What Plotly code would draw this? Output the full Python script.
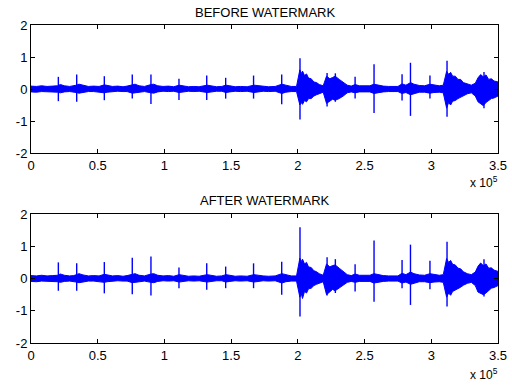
import plotly.graph_objects as go

# ---- data (sample index in thousands of samples) ----
env_k = [0, 4, 8, 12, 16, 20, 22, 25, 29, 32,
         34, 36, 39, 43, 47, 51, 55, 57, 61, 65,
         69, 72, 76, 78, 81, 85, 90, 92, 95, 99,
         103, 107, 111, 114, 118, 122, 126, 132, 135, 139,
         143, 146, 149, 153, 157, 162, 167, 170, 174, 178,
         183, 188, 191, 195, 199,
         201.5, 202.5, 203.5, 205, 206.5, 208, 210, 212, 214, 216, 219,
         221.5, 224, 226, 228, 231, 234, 237, 240,
         243, 246, 250, 254, 257, 260, 264, 268, 272, 275,
         278, 281, 284.5, 287, 291, 295, 299, 302, 306, 309,
         311.5, 313, 314.5, 316, 318, 320, 322, 324, 327, 330,
         333, 335, 337, 339, 341, 343, 345, 347, 350]

before_upper = [0.09, 0.08, 0.10, 0.08, 0.09, 0.10, 0.14, 0.10, 0.08, 0.09,
                0.12, 0.15, 0.11, 0.08, 0.09, 0.08, 0.13, 0.12, 0.08, 0.09,
                0.07, 0.09, 0.14, 0.15, 0.10, 0.08, 0.14, 0.15, 0.10, 0.08,
                0.09, 0.07, 0.12, 0.10, 0.07, 0.08, 0.07, 0.12, 0.10, 0.07,
                0.08, 0.12, 0.10, 0.07, 0.08, 0.07, 0.12, 0.10, 0.08, 0.07,
                0.08, 0.15, 0.12, 0.08, 0.08,
                0.60, 0.48, 0.56, 0.42, 0.47, 0.34, 0.32, 0.22, 0.20, 0.14, 0.10,
                0.40, 0.32, 0.36, 0.40, 0.30, 0.20, 0.12, 0.09,
                0.14, 0.10, 0.09, 0.10, 0.15, 0.12, 0.09, 0.08, 0.09, 0.08,
                0.16, 0.12, 0.20, 0.15, 0.11, 0.10, 0.15, 0.12, 0.10, 0.12,
                0.55, 0.46, 0.52, 0.40, 0.40, 0.30, 0.30, 0.20, 0.15, 0.12,
                0.18, 0.35, 0.45, 0.38, 0.44, 0.30, 0.32, 0.25, 0.22]
before_lower = [-0.09, -0.10, -0.08, -0.09, -0.08, -0.10, -0.12, -0.09, -0.08, -0.09,
                -0.11, -0.13, -0.10, -0.08, -0.08, -0.09, -0.12, -0.10, -0.08, -0.07,
                -0.08, -0.08, -0.13, -0.12, -0.09, -0.08, -0.12, -0.13, -0.09, -0.07,
                -0.08, -0.07, -0.11, -0.09, -0.07, -0.08, -0.07, -0.11, -0.09, -0.07,
                -0.07, -0.11, -0.09, -0.07, -0.08, -0.07, -0.11, -0.09, -0.07, -0.08,
                -0.07, -0.14, -0.10, -0.08, -0.08,
                -0.50, -0.42, -0.48, -0.36, -0.40, -0.30, -0.30, -0.22, -0.18, -0.14, -0.10,
                -0.45, -0.38, -0.32, -0.35, -0.30, -0.22, -0.12, -0.09,
                -0.12, -0.09, -0.08, -0.09, -0.14, -0.11, -0.09, -0.08, -0.09, -0.08,
                -0.14, -0.11, -0.18, -0.14, -0.10, -0.10, -0.13, -0.11, -0.10, -0.12,
                -0.60, -0.42, -0.50, -0.38, -0.36, -0.30, -0.26, -0.20, -0.15, -0.12,
                -0.22, -0.40, -0.45, -0.52, -0.42, -0.36, -0.30, -0.28, -0.22]

after_upper = [0.09, 0.08, 0.10, 0.08, 0.09, 0.10, 0.14, 0.10, 0.08, 0.09,
               0.12, 0.15, 0.11, 0.08, 0.09, 0.08, 0.13, 0.12, 0.08, 0.09,
               0.07, 0.09, 0.14, 0.15, 0.10, 0.08, 0.14, 0.15, 0.10, 0.08,
               0.09, 0.07, 0.12, 0.10, 0.07, 0.08, 0.07, 0.12, 0.10, 0.07,
               0.08, 0.12, 0.10, 0.07, 0.08, 0.07, 0.12, 0.10, 0.08, 0.07,
               0.08, 0.15, 0.12, 0.08, 0.08,
               0.63, 0.52, 0.60, 0.45, 0.50, 0.36, 0.34, 0.24, 0.21, 0.15, 0.10,
               0.45, 0.36, 0.40, 0.42, 0.32, 0.22, 0.12, 0.09,
               0.14, 0.10, 0.09, 0.10, 0.15, 0.12, 0.09, 0.08, 0.09, 0.08,
               0.16, 0.12, 0.20, 0.15, 0.11, 0.10, 0.15, 0.12, 0.10, 0.12,
               0.62, 0.50, 0.56, 0.44, 0.42, 0.32, 0.30, 0.21, 0.15, 0.12,
               0.20, 0.38, 0.48, 0.40, 0.45, 0.32, 0.33, 0.26, 0.22]
after_lower = [-0.09, -0.10, -0.08, -0.09, -0.08, -0.10, -0.12, -0.09, -0.08, -0.09,
               -0.11, -0.13, -0.10, -0.08, -0.08, -0.09, -0.12, -0.10, -0.08, -0.07,
               -0.08, -0.08, -0.13, -0.12, -0.09, -0.08, -0.12, -0.13, -0.09, -0.07,
               -0.08, -0.07, -0.11, -0.09, -0.07, -0.08, -0.07, -0.11, -0.09, -0.07,
               -0.07, -0.11, -0.09, -0.07, -0.08, -0.07, -0.11, -0.09, -0.07, -0.08,
               -0.07, -0.14, -0.10, -0.08, -0.08,
               -0.58, -0.46, -0.62, -0.40, -0.45, -0.32, -0.30, -0.22, -0.18, -0.14, -0.10,
               -0.50, -0.40, -0.34, -0.38, -0.30, -0.22, -0.12, -0.09,
               -0.12, -0.09, -0.08, -0.09, -0.14, -0.11, -0.09, -0.08, -0.09, -0.08,
               -0.14, -0.11, -0.18, -0.14, -0.10, -0.10, -0.13, -0.11, -0.10, -0.12,
               -0.58, -0.45, -0.52, -0.40, -0.36, -0.30, -0.27, -0.21, -0.15, -0.12,
               -0.22, -0.42, -0.45, -0.50, -0.45, -0.38, -0.30, -0.28, -0.22]

spike_k = [20.5, 34.25, 54.95, 75.9, 89.9, 110.9, 131.7, 145.9, 166.8, 187.9,
           201.6, 221.9, 228.1, 242.9, 257.1, 278.1, 284.4, 299.0, 311.8, 339.5]
before_spike_top = [0.38, 0.45, 0.40, 0.45, 0.45, 0.32, 0.42, 0.35, 0.42, 0.45,
                    0.96, 0.50, 0.49, 0.38, 0.77, 0.46, 0.82, 0.42, 0.88, 0.53]
before_spike_bottom = [-0.38, -0.40, -0.35, -0.30, -0.47, -0.34, -0.34, -0.30, -0.30, -0.48,
                       -0.95, -0.55, -0.40, -0.30, -0.75, -0.36, -0.84, -0.30, -0.87, -0.60]
after_spike_top = [0.50, 0.47, 0.51, 0.64, 0.68, 0.34, 0.47, 0.37, 0.47, 0.52,
                   1.59, 0.66, 0.60, 0.44, 1.18, 0.57, 1.05, 0.55, 1.14, 0.60]
after_spike_bottom = [-0.38, -0.38, -0.46, -0.49, -0.53, -0.30, -0.35, -0.30, -0.30, -0.50,
                      -1.18, -0.53, -0.45, -0.40, -0.72, -0.30, -0.82, -0.33, -0.87, -0.56]

x_tickvals = [0, 50000, 100000, 150000, 200000, 250000, 300000, 350000]
x_ticktext = ["0", "0.5", "1", "1.5", "2", "2.5", "3", "3.5"]
y_tickvals = [-2, -1, 0, 1, 2]
y_ticktext = ["-2", "-1", "0", "1", "2"]
titles = ["BEFORE WATERMARK", "AFTER WATERMARK"]

BLUE = "rgb(0,0,255)"
FONT = "Liberation Sans, Arial, sans-serif"

env_x = [k * 1000 for k in env_k]
spike_x = [k * 1000 for k in spike_k]

fig = go.Figure()

series = [
    (before_upper, before_lower, before_spike_top, before_spike_bottom, "x", "y"),
    (after_upper, after_lower, after_spike_top, after_spike_bottom, "x2", "y2"),
]
for up, lo, st, sb, xa, ya in series:
    fig.add_trace(go.Scatter(x=env_x, y=up, mode="lines", line=dict(color=BLUE, width=1),
                             xaxis=xa, yaxis=ya, showlegend=False, hoverinfo="skip"))
    fig.add_trace(go.Scatter(x=env_x, y=lo, mode="lines", line=dict(color=BLUE, width=1),
                             fill="tonexty", fillcolor=BLUE,
                             xaxis=xa, yaxis=ya, showlegend=False, hoverinfo="skip"))
    sx, sy = [], []
    for xv, t, b in zip(spike_x, st, sb):
        sx += [xv, xv, None]
        sy += [b, t, None]
    fig.add_trace(go.Scatter(x=sx, y=sy, mode="lines", line=dict(color=BLUE, width=1.4),
                             xaxis=xa, yaxis=ya, showlegend=False, hoverinfo="skip"))

W, H = 512, 385


def px(x):
    return x / W


def py(y):
    return 1 - y / H


x_dom = [px(31), px(498)]
top_dom = [py(153), py(25)]
bot_dom = [py(343), py(214)]

axis_common = dict(showline=True, linecolor="black", linewidth=1, mirror="ticks",
                   ticks="inside", ticklen=4, tickcolor="black", showgrid=False,
                   zeroline=False, automargin=False,
                   tickfont=dict(family=FONT, size=13, color="black"))

fig.update_layout(
    width=W, height=H, autosize=False,
    margin=dict(l=0, r=0, t=0, b=0, pad=0, autoexpand=False),
    paper_bgcolor="white", plot_bgcolor="white",
    xaxis=dict(domain=x_dom, range=[0, 350000], tickvals=x_tickvals, ticktext=x_ticktext,
               anchor="y", **axis_common),
    yaxis=dict(domain=top_dom, range=[-2, 2], tickvals=y_tickvals, ticktext=y_ticktext,
               anchor="x", **axis_common),
    xaxis2=dict(domain=x_dom, range=[0, 350000], tickvals=x_tickvals, ticktext=x_ticktext,
                anchor="y2", **axis_common),
    yaxis2=dict(domain=bot_dom, range=[-2, 2], tickvals=y_tickvals, ticktext=y_ticktext,
                anchor="x2", **axis_common),
    annotations=[
        dict(text=titles[0], x=px(264.5), y=py(12), xref="paper", yref="paper",
             showarrow=False, xanchor="center", yanchor="middle",
             font=dict(family=FONT, size=13, color="black")),
        dict(text=titles[1], x=px(264.5), y=py(201), xref="paper", yref="paper",
             showarrow=False, xanchor="center", yanchor="middle",
             font=dict(family=FONT, size=13, color="black")),
        dict(text="x 10<sup>5</sup>", x=px(500), y=py(182), xref="paper", yref="paper",
             showarrow=False, xanchor="right", yanchor="middle",
             font=dict(family=FONT, size=12, color="black")),
        dict(text="x 10<sup>5</sup>", x=px(500), y=py(374), xref="paper", yref="paper",
             showarrow=False, xanchor="right", yanchor="middle",
             font=dict(family=FONT, size=12, color="black")),
    ],
)

fig.write_html("out.html",
               config={"displayModeBar": False, "staticPlot": True},
               post_script="document.body.style.margin='0px';document.body.style.overflow='hidden';")
